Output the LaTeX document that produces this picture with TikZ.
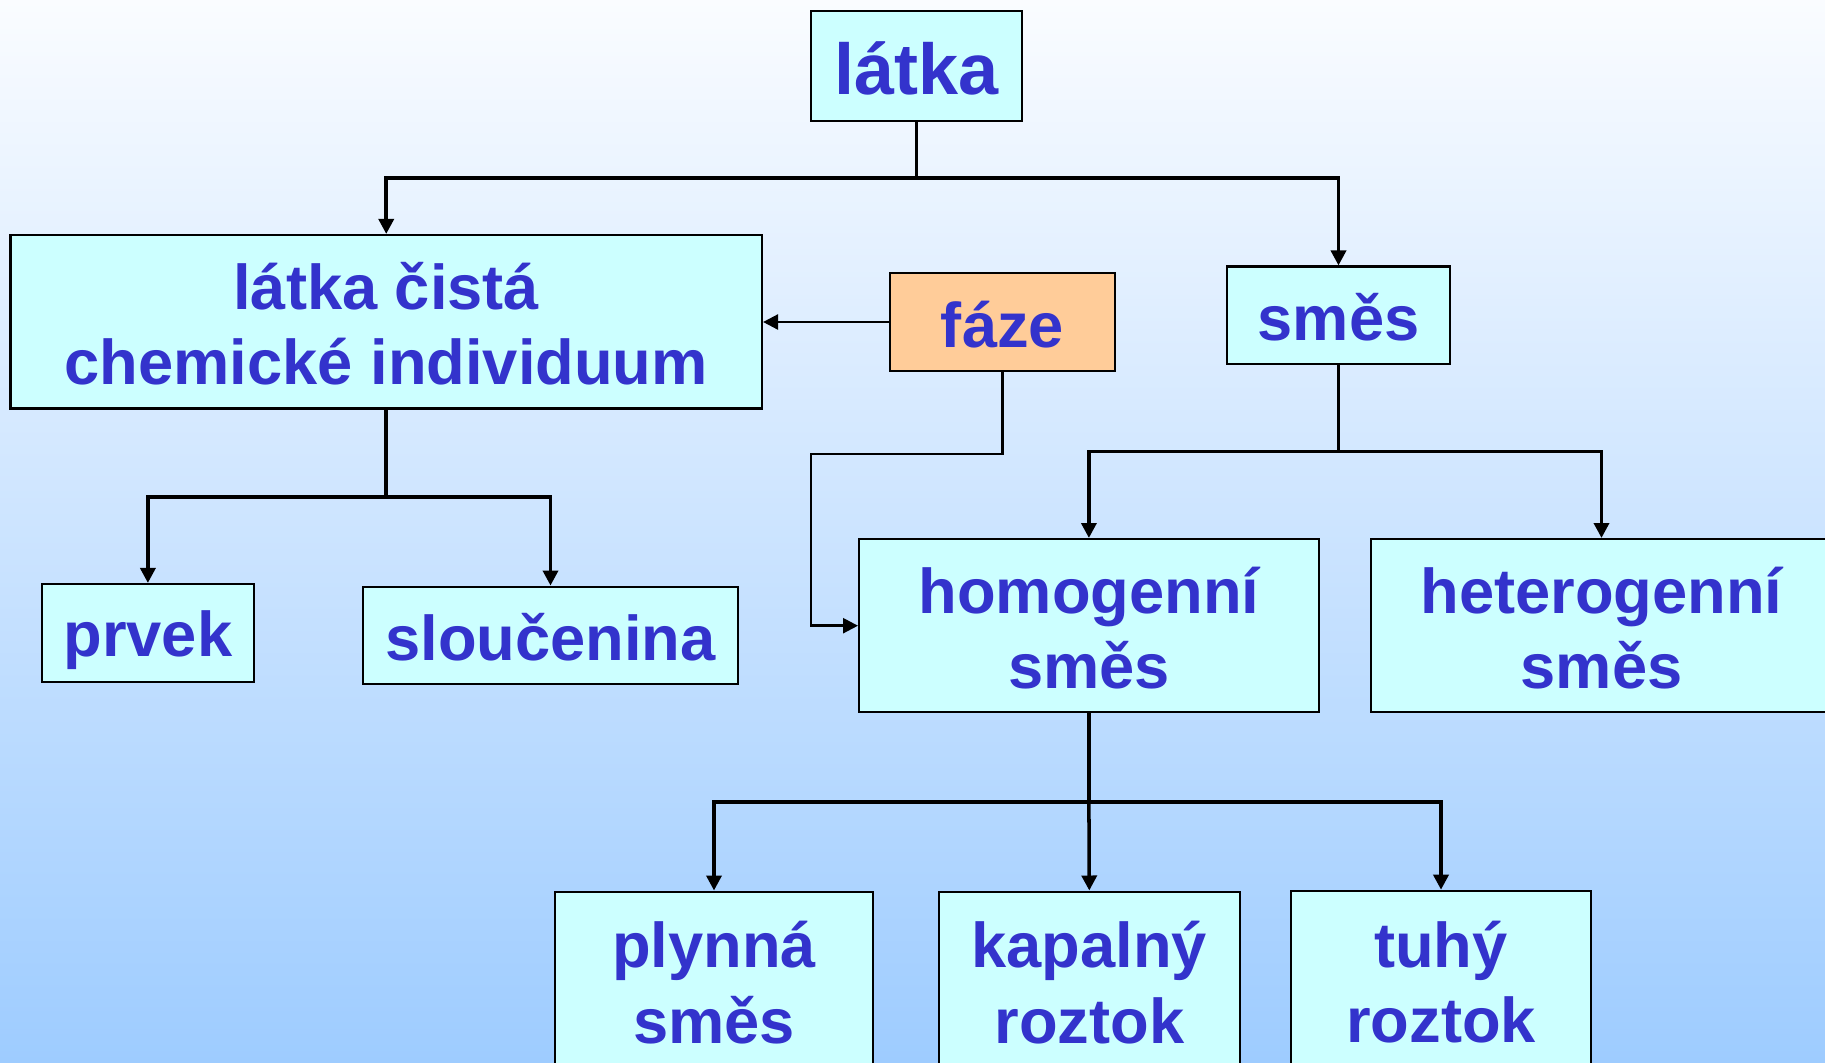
\documentclass[tikz,border=0pt]{standalone}
\usepackage{fontspec}
\setmainfont{Liberation Sans}
\usetikzlibrary{arrows.meta}
\definecolor{boxfill}{HTML}{CCFFFF}
\definecolor{fazefill}{HTML}{FFCC99}
\definecolor{txtblue}{HTML}{3333CC}
\definecolor{bgtop}{RGB}{250,252,255}
\definecolor{bgbot}{RGB}{158,204,255}
\newcommand\ls{\rule[-0.15em]{0pt}{1.1em}}
\begin{document}
\begin{tikzpicture}[x=0.02cm,y=-0.02cm,
  box/.style={draw=black, line width=1.2pt, fill=boxfill, text=txtblue,
    font=\fontsize{36}{43}\selectfont\bfseries, align=center, inner sep=0pt},
  bw/.style={minimum width={#1*0.02cm}},
  bh/.style={minimum height={#1*0.02cm}},
  trunk/.style={line width=2pt},
  conn/.style={line width=2pt, -{Triangle[length=0.3cm,width=0.3cm]}},
  thinconn/.style={line width=1.4pt, -{Triangle[length=0.3cm,width=0.3cm]}}]
\useasboundingbox (0,0) rectangle (1825,1062);
\clip (0,0) rectangle (1825,1062);
\shade[top color=bgtop, bottom color=bgbot] (0,0) rectangle (1825,1062);

% boxes
\node[box, bw=211, bh=110, font=\fontsize{41}{49}\selectfont\bfseries] (latka) at (916.5,66) {\ls látka};
\node[box, bw=751.5, bh=173.5] (cista) at (386.25,321.75) {\ls látka čistá\\\ls chemické individuum};
\node[box, bw=225, bh=97.5, fill=fazefill] (faze) at (1002.5,322) {\ls fáze};
\node[box, bw=223, bh=97.5] (smes) at (1338.5,315.25) {\ls směs};
\node[box, bw=211.7, bh=98] (prvek) at (147.9,633) {\ls prvek};
\node[box, bw=375, bh=97.4] (slouc) at (550.5,635.3) {\ls sloučenina};
\node[box, bw=459.7, bh=173.3] (homo) at (1088.9,625.7) {\ls homogenní\\\ls směs};
\node[box, bw=461, bh=173.3] (hetero) at (1601.5,625.7) {\ls heterogenní\\\ls směs};
\node[box, bw=318, bh=177.5] (plyn) at (714,980.3) {\ls plynná\\\ls směs};
\node[box, bw=300.6, bh=177.5] (kapal) at (1089.3,980.3) {\ls kapalný\\\ls roztok};
\node[box, bw=300, bh=177.5] (tuhy) at (1441,979.5) {\ls tuhý\\\ls roztok};

% junctions
\coordinate (j1) at (916.5,178);
\coordinate (j2) at (386.25,497);
\coordinate (j3) at (1338.5,451.6);
\coordinate (j4) at (1088.9,802);
\coordinate (f1) at (811,454);

% tree connectors
\draw[trunk] (latka.south) -- (j1);
\draw[conn] (j1) -| (cista.north);
\draw[conn] (j1) -| (smes.north);

\draw[trunk] (cista.south) -- (j2);
\draw[conn] (j2) -| (prvek.north);
\draw[conn] (j2) -| (slouc.north);

\draw[trunk] (smes.south) -- (j3);
\draw[conn] (j3) -| (homo.north);
\draw[conn] (j3) -| (hetero.north);

\draw[trunk] (homo.south) -- (j4);
\draw[conn] (j4) -| (plyn.north);
\draw[conn] (j4) -- (kapal.north);
\draw[conn] (j4) -| (tuhy.north);

% faze connectors
\draw[thinconn] (faze.west) -- (faze.west -| cista.east);
\draw[thinconn] (faze.south) |- (f1) |- (homo.west);
\end{tikzpicture}
\end{document}
